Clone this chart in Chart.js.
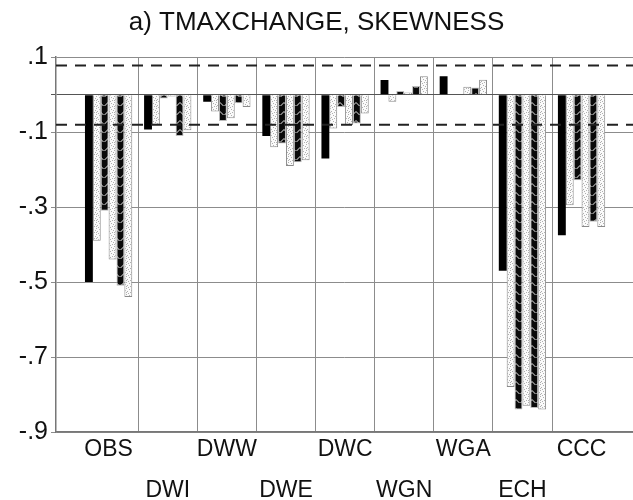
<!DOCTYPE html>
<html>
<head>
<meta charset="utf-8">
<title>TMAXCHANGE, SKEWNESS</title>
<script src="https://cdn.jsdelivr.net/npm/chart.js@4/dist/chart.umd.min.js"></script>
<style>
    html, body { margin: 0; padding: 0; background: #fff; }
    #chartBox { width: 633px; height: 500px; }
</style>
</head>
<body>
<div id="chartBox"><canvas id="skewChart" width="633" height="500"></canvas></div>
<script>
// categories along the bottom (two staggered rows)
const categories = ['OBS', 'DWI', 'DWW', 'DWE', 'DWC', 'WGN', 'WGA', 'ECH', 'CCC'];

// six bars per group, left to right
const series1 = [-0.50, -0.093, -0.019, -0.11, -0.17, 0.039, 0.049, -0.47, -0.375];   // solid black
const series2 = [-0.39, -0.080, -0.045, -0.14, -0.09, -0.019, 0.000, -0.78, -0.295];  // stippled
const series3 = [-0.31, -0.010, -0.070, -0.13, -0.033, 0.010, 0.000, -0.84, -0.228];  // hatched
const series4 = [-0.44, -0.005, -0.063, -0.19, -0.081, 0.006, 0.021, -0.83, -0.353];  // stippled
const series5 = [-0.51, -0.110, -0.023, -0.18, -0.077, 0.023, 0.019, -0.836, -0.339]; // hatched
const series6 = [-0.54, -0.095, -0.033, -0.175, -0.050, 0.049, 0.040, -0.84, -0.353]; // stippled

// dashed reference band and y ticks
const bandLevels = [0.078, -0.08];
const yTicks = [0.1, 0, -0.1, -0.3, -0.5, -0.7, -0.9];

const FONT = "'Liberation Sans', Arial, sans-serif";
const X_MIN = -0.89;
const X_MAX = 8.87;

document.addEventListener('DOMContentLoaded', function() {
    drawChart();
});

function hatchPattern() {
    const c = document.createElement('canvas');
    c.width = 8; c.height = 9;
    const g = c.getContext('2d');
    g.fillStyle = '#0a0a0a';
    g.fillRect(0, 0, 8, 9);
    g.strokeStyle = '#e8e8e8';
    g.lineWidth = 1;
    g.beginPath();
    g.moveTo(0.5, 7); g.lineTo(4, 3.5); g.lineTo(7.5, 7);
    g.stroke();
    return g.createPattern(c, 'repeat');
}

function stipplePattern() {
    const c = document.createElement('canvas');
    c.width = 6; c.height = 6;
    const g = c.getContext('2d');
    g.fillStyle = '#fafafa';
    g.fillRect(0, 0, 6, 6);
    g.fillStyle = '#b0b0b0';
    [[0, 0], [3, 1], [5, 2], [1, 3], [4, 4], [2, 5], [0, 4]].forEach(p => g.fillRect(p[0], p[1], 1, 1));
    return g.createPattern(c, 'repeat');
}

function fmtTick(v) {
    if (Math.abs(v) < 1e-9) return '';
    return v.toFixed(1).replace('0.', '.');
}

function drawChart() {
    const hatch = hatchPattern();
    const dots = stipplePattern();

    const styles = [
        { bg: '#000', border: '#000', bw: 0 },
        { bg: dots, border: '#8a8a8a', bw: 1 },
        { bg: hatch, border: '#bbb', bw: 1 },
        { bg: dots, border: '#8a8a8a', bw: 1 },
        { bg: hatch, border: '#bbb', bw: 1 },
        { bg: dots, border: '#8a8a8a', bw: 1 }
    ];
    const allSeries = [series1, series2, series3, series4, series5, series6];

    const datasets = allSeries.map((vals, k) => ({
        type: 'bar',
        label: 'Series ' + (k + 1),
        data: vals.map((v, i) => ({ x: i, y: v })),
        backgroundColor: styles[k].bg,
        borderColor: styles[k].border,
        borderWidth: styles[k].bw,
        categoryPercentage: 0.8,
        barPercentage: 1.0,
        xAxisID: 'x',
        order: 2
    }));

    bandLevels.forEach(lvl => {
        datasets.push({
            type: 'line',
            data: [{ x: X_MIN, y: lvl }, { x: X_MAX, y: lvl }],
            borderColor: '#222',
            borderWidth: 2,
            borderDash: [11, 8],
            pointRadius: 0,
            xAxisID: 'x',
            order: 1
        });
    });

    const ctx = document.getElementById('skewChart').getContext('2d');
    new Chart(ctx, {
        data: { datasets: datasets },
        options: {
            responsive: false,
            animation: false,
            layout: { padding: 0 },
            plugins: {
                legend: { display: false },
                tooltip: { enabled: false },
                title: {
                    display: true,
                    text: 'a) TMAXCHANGE, SKEWNESS',
                    color: '#111',
                    font: { family: FONT, size: 26, weight: 'normal', lineHeight: 1.2 },
                    padding: { top: 7, bottom: 19 }
                }
            },
            scales: {
                x: {
                    type: 'linear',
                    position: 'bottom',
                    min: X_MIN,
                    max: X_MAX,
                    offset: false,
                    afterBuildTicks: scale => {
                        scale.ticks = categories.slice(1).map((c, i) => ({ value: i + 0.5 }));
                    },
                    afterFit: scale => { scale.height = 0; },
                    ticks: { display: false },
                    grid: { color: '#8c8c8c', lineWidth: 1, drawTicks: false, offset: false },
                    border: { display: true, color: '#777', width: 1.5 }
                },
                xl: {
                    type: 'linear',
                    position: 'bottom',
                    min: X_MIN,
                    max: X_MAX,
                    offset: false,
                    afterBuildTicks: scale => {
                        scale.ticks = categories.map((c, i) => ({ value: i }));
                    },
                    afterFit: scale => { scale.height = 68; },
                    grid: { display: false },
                    border: { display: false },
                    ticks: {
                        autoSkip: false,
                        maxRotation: 0,
                        padding: -10,
                        color: '#111',
                        font: { family: FONT, size: 23, lineHeight: 1.75 },
                        callback: (v, i) => i % 2 ? ['', categories[i]] : categories[i]
                    }
                },
                y: {
                    min: -0.9,
                    max: 0.1,
                    afterBuildTicks: scale => {
                        scale.ticks = yTicks.map(v => ({ value: v }));
                    },
                    afterFit: scale => { scale.width = 56; },
                    ticks: {
                        padding: 3,
                        color: '#111',
                        font: { family: FONT, size: 25 },
                        callback: v => fmtTick(v)
                    },
                    grid: {
                        color: c => Math.abs(c.tick.value) < 1e-9 ? '#555' : '#8c8c8c',
                        lineWidth: 1,
                        tickLength: 5
                    },
                    border: { display: true, color: '#777', width: 1.5 }
                }
            }
        }
    });
}
</script>
</body>
</html>
